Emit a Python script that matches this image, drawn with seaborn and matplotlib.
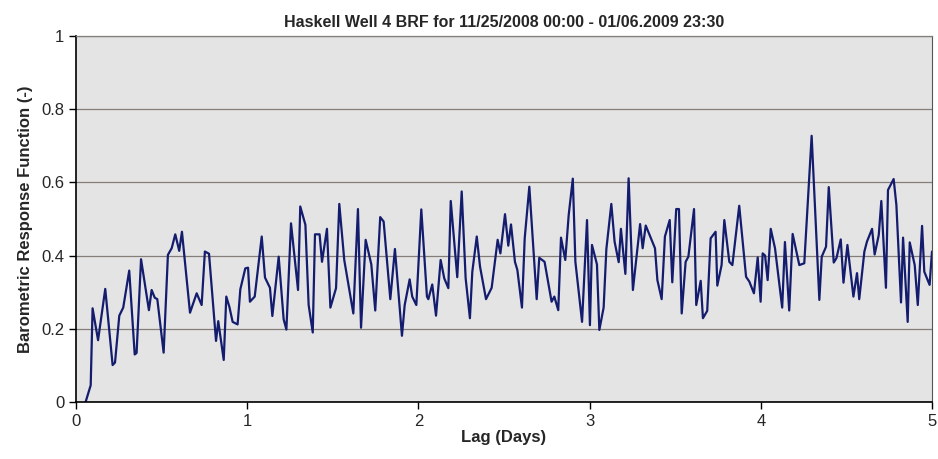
import matplotlib
matplotlib.use("Agg")
import matplotlib.pyplot as plt
import numpy as np
import pandas as pd
import seaborn as sns

# lag (days) and barometric response function
lag = [
    0.056, 0.086, 0.097, 0.129, 0.171, 0.214, 0.228, 0.253, 0.276, 0.311,
    0.343, 0.354, 0.380, 0.426, 0.442, 0.460, 0.475, 0.512, 0.537, 0.559,
    0.580, 0.603, 0.619, 0.666, 0.705, 0.734, 0.753, 0.777, 0.818, 0.831,
    0.863, 0.878, 0.896, 0.915, 0.944, 0.960, 0.989, 1.005, 1.016, 1.044,
    1.085, 1.104, 1.133, 1.147, 1.184, 1.213, 1.229, 1.256, 1.297, 1.310,
    1.340, 1.359, 1.383, 1.396, 1.423, 1.437, 1.466, 1.486, 1.519, 1.538,
    1.567, 1.620, 1.647, 1.665, 1.692, 1.725, 1.748, 1.777, 1.797, 1.836,
    1.863, 1.904, 1.920, 1.949, 1.964, 1.988, 2.017, 2.050, 2.058, 2.081,
    2.103, 2.130, 2.151, 2.175, 2.189, 2.227, 2.253, 2.276, 2.301, 2.315,
    2.341, 2.360, 2.395, 2.428, 2.463, 2.479, 2.506, 2.525, 2.541, 2.564,
    2.578, 2.605, 2.621, 2.648, 2.691, 2.706, 2.737, 2.778, 2.794, 2.817,
    2.833, 2.858, 2.878, 2.902, 2.917, 2.956, 2.985, 3.002, 3.014, 3.043,
    3.057, 3.082, 3.098, 3.127, 3.146, 3.170, 3.183, 3.209, 3.228, 3.253,
    3.295, 3.310, 3.328, 3.382, 3.396, 3.421, 3.440, 3.468, 3.483, 3.506,
    3.522, 3.538, 3.561, 3.577, 3.610, 3.623, 3.649, 3.662, 3.687, 3.707,
    3.736, 3.746, 3.771, 3.787, 3.816, 3.834, 3.874, 3.914, 3.933, 3.960,
    3.982, 3.999, 4.011, 4.025, 4.040, 4.058, 4.083, 4.125, 4.141, 4.166,
    4.186, 4.225, 4.254, 4.297, 4.342, 4.356, 4.381, 4.397, 4.426, 4.442,
    4.467, 4.483, 4.506, 4.541, 4.562, 4.575, 4.605, 4.620, 4.650, 4.665,
    4.689, 4.704, 4.731, 4.743, 4.776, 4.792, 4.819, 4.831, 4.858, 4.870,
    4.899, 4.917, 4.942, 4.955, 4.986, 5.000,
]
brf = [
    0.000, 0.046, 0.256, 0.169, 0.309, 0.101, 0.108, 0.236, 0.258, 0.359,
    0.130, 0.134, 0.390, 0.251, 0.306, 0.285, 0.281, 0.135, 0.402, 0.420,
    0.458, 0.413, 0.465, 0.244, 0.297, 0.265, 0.411, 0.405, 0.167, 0.221,
    0.115, 0.288, 0.260, 0.219, 0.212, 0.308, 0.365, 0.367, 0.274, 0.288,
    0.452, 0.340, 0.312, 0.235, 0.397, 0.226, 0.198, 0.488, 0.306, 0.534,
    0.484, 0.265, 0.190, 0.458, 0.458, 0.383, 0.473, 0.258, 0.311, 0.541,
    0.388, 0.242, 0.527, 0.203, 0.443, 0.376, 0.250, 0.505, 0.493, 0.281,
    0.418, 0.181, 0.265, 0.335, 0.288, 0.265, 0.526, 0.288, 0.281, 0.321,
    0.236, 0.388, 0.338, 0.311, 0.549, 0.341, 0.575, 0.338, 0.229, 0.356,
    0.452, 0.370, 0.281, 0.312, 0.443, 0.406, 0.513, 0.427, 0.485, 0.383,
    0.361, 0.258, 0.447, 0.588, 0.281, 0.394, 0.383, 0.274, 0.288, 0.251,
    0.449, 0.388, 0.511, 0.610, 0.383, 0.219, 0.497, 0.210, 0.429, 0.376,
    0.197, 0.258, 0.418, 0.541, 0.438, 0.382, 0.473, 0.350, 0.611, 0.306,
    0.486, 0.420, 0.482, 0.420, 0.333, 0.281, 0.452, 0.497, 0.327, 0.527,
    0.527, 0.242, 0.383, 0.397, 0.527, 0.265, 0.331, 0.229, 0.249, 0.447,
    0.465, 0.318, 0.374, 0.497, 0.383, 0.374, 0.536, 0.342, 0.329, 0.297,
    0.395, 0.274, 0.406, 0.400, 0.333, 0.473, 0.420, 0.258, 0.437, 0.250,
    0.459, 0.374, 0.379, 0.727, 0.279, 0.397, 0.424, 0.587, 0.381, 0.393,
    0.444, 0.326, 0.429, 0.288, 0.352, 0.281, 0.411, 0.438, 0.473, 0.403,
    0.456, 0.549, 0.312, 0.579, 0.609, 0.538, 0.272, 0.449, 0.219, 0.436,
    0.374, 0.265, 0.481, 0.356, 0.320, 0.411,
]
x_ticks = [0, 1, 2, 3, 4, 5]
y_ticks = [0, 0.2, 0.4, 0.6, 0.8, 1]
y_labels = ["0", "0.2", "0.4", "0.6", "0.8", "1"]

sns.set_style("white")
plt.rcParams["font.family"] = ["Liberation Sans", "DejaVu Sans"]

df = pd.DataFrame({"Lag": lag, "BRF": brf})

fig, ax = plt.subplots(figsize=(9.38, 4.59), dpi=100)
fig.subplots_adjust(left=0.081, right=0.9936, top=0.922, bottom=0.124)
ax.set_facecolor("#e4e4e4")

sns.lineplot(x="Lag", y="BRF", data=df, ax=ax, color="#141c6e",
             linewidth=1.6, estimator=None, sort=False)

ax.set_xlim(0, 5)
ax.set_ylim(0, 1)
ax.set_xticks(x_ticks)
ax.set_yticks(y_ticks)
ax.set_yticklabels(y_labels)
ax.yaxis.grid(True, color="#857e78", linewidth=0.9)
ax.set_axisbelow(True)
ax.tick_params(axis="both", labelsize=12, direction="out", length=5,
               width=1, color="black", left=True, bottom=True)

for side in ["left", "bottom"]:
    ax.spines[side].set_color("black")
    ax.spines[side].set_linewidth(1.2)
ax.spines["right"].set_color("#555555")
ax.spines["top"].set_color("#857e78")
ax.spines["top"].set_linewidth(0.9)

ax.set_title("Haskell Well 4 BRF for 11/25/2008 00:00 - 01/06.2009 23:30",
             fontsize=11.5, fontweight="bold", pad=6)
ax.set_xlabel("Lag (Days)", fontsize=12, fontweight="bold", labelpad=1)
ax.set_ylabel("Barometric Response Function (-)", fontsize=12,
              fontweight="bold", labelpad=6)

plt.savefig("out.png", dpi=100)
